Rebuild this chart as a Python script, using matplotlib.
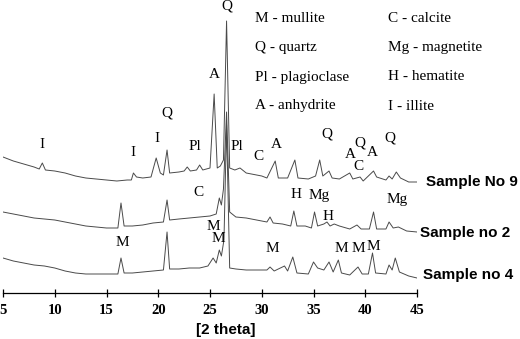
import matplotlib
matplotlib.use('Agg')
import matplotlib.pyplot as plt

# 2 theta positions and intensities (arbitrary units)
theta_no9 = [5.0, 6, 7, 8, 8.5, 8.8, 9.1, 10, 11, 12, 13, 14, 15, 16, 17, 17.4, 17.6, 17.9,
             18.5, 19.3, 19.8, 20.2, 20.5, 20.85, 21.1, 22, 22.5, 22.8, 23.1, 23.7, 24.0, 24.3,
             25.0, 25.4, 25.7, 26.0, 26.3, 26.6, 26.9, 27.4, 27.9, 28.5, 29.5, 30, 30.5, 31.3,
             31.6, 32.5, 33.2, 33.5, 34.5, 35.2, 35.6, 35.9, 36.5, 36.8, 37.5, 38.5, 38.8, 39.5,
             39.8, 40.8, 41.1, 42.0, 42.3, 42.6, 43.0, 43.4, 44.2, 45]
int_no9 = [136, 132, 129, 126, 124, 130, 123, 122, 120, 117, 115, 114, 113, 112, 113, 113, 120, 116,
           115, 116, 135, 120, 118, 143, 120, 121, 122, 126, 122, 123, 128, 123,
           125, 199, 125, 127, 133, 272, 125, 123, 125, 120, 118, 117, 115, 132,
           115, 115, 133, 115, 114, 117, 133, 117, 122, 115, 114, 120, 114, 116,
           112, 122, 116, 113, 117, 114, 121, 115, 111, 111]

theta_no2 = [5, 6, 7, 8, 9, 10, 11, 12, 13, 14, 15, 16.1, 16.4, 16.7, 17.5, 18.5, 19.5, 20.5,
             20.85, 21.1, 22, 23, 24, 25, 25.6, 25.9, 26.1, 26.3, 26.6, 26.9, 27.5, 28.5, 29.5,
             30.5, 30.8, 31.1, 32, 32.8, 33.1, 33.4, 34.2, 34.8, 35.1, 35.4, 36.0, 36.3, 36.6,
             37, 37.5, 38.5, 39.2, 39.6, 40.4, 40.8, 41.1, 42, 42.3, 42.7, 43.2, 44, 45]
int_no2 = [81, 79, 77, 75, 74, 73, 71, 69, 67, 66, 65, 65, 90, 67, 67, 68, 70, 71,
           93, 73, 74, 75, 76, 77, 79, 95, 88, 104, 181, 81, 76, 75, 73,
           71, 76, 70, 69, 67, 82, 67, 67, 65, 81, 67, 69, 71, 67,
           69, 67, 64, 68, 64, 64, 81, 64, 64, 71, 65, 66, 62, 61]

theta_no4 = [5, 6, 7, 8, 9, 10, 11, 12, 13, 14, 15, 16.1, 16.4, 16.7, 17.5, 18.5, 19.5, 20.5,
             20.85, 21.1, 22, 23, 24, 24.8, 25.3, 25.6, 25.9, 26.1, 26.35, 26.6, 26.9, 27.5, 28.5,
             29.5, 30.5, 30.8, 31.2, 32.2, 32.5, 33.0, 33.4, 34.5, 35.0, 35.4, 36.0, 36.5, 36.9,
             37.4, 37.7, 38.5, 39.3, 39.7, 40.3, 40.7, 41.0, 42.0, 42.3, 42.6, 42.9, 43.3, 44.2, 45]
int_no4 = [35, 32, 30, 28, 27, 25, 22, 20, 19, 19, 19, 19, 35, 20, 20, 21, 22, 23,
           61, 24, 24, 25, 25, 27, 35, 30, 43, 37, 53, 168, 25, 24, 23,
           23, 23, 26, 22, 27, 22, 36, 20, 19, 31, 25, 23, 31, 21,
           33, 20, 18, 26, 19, 19, 40, 20, 19, 28, 23, 35, 21, 17, 15]

# phase markers: (label, 2 theta, intensity)
peak_labels = [
    ('I', 8.77, 148), ('I', 17.56, 140), ('I', 19.88, 155), ('Q', 20.85, 180),
    ('Pl', 23.55, 147), ('A', 25.39, 219), ('Q', 26.64, 287), ('Pl', 27.6, 147),
    ('C', 29.64, 137), ('A', 31.38, 148), ('Q', 36.3, 159), ('A', 38.53, 139),
    ('C', 39.3, 126), ('Q', 39.49, 150), ('A', 40.65, 140), ('Q', 42.39, 155),
    ('C', 23.84, 100), ('H', 33.31, 99), ('Mg', 35.53, 97), ('H', 36.4, 77),
    ('Mg', 43.07, 94),
    ('M', 16.5, 51), ('M', 25.29, 66), ('M', 25.77, 54), ('M', 30.99, 45),
    ('M', 37.66, 45), ('M', 39.3, 45), ('M', 40.75, 47),
]

legend_left = ['M - mullite', 'Q - quartz', 'Pl - plagioclase', 'A - anhydrite']
legend_right = ['C - calcite', 'Mg - magnetite', 'H - hematite', 'I - illite']

samples = [('Sample No 9', 426, 182), ('Sample no 2', 420, 233), ('Sample no 4', 423, 275)]

W, H = 520, 339
fig = plt.figure(figsize=(W / 100, H / 100), dpi=100)
ax = fig.add_axes([3 / W, 46 / H, 414 / W, 293 / H])

line_kw = dict(color='#4a4a4a', lw=0.7)
ax.plot(theta_no9, int_no9, **line_kw)
ax.plot(theta_no2, int_no2, **line_kw)
ax.plot(theta_no4, int_no4, **line_kw)

serif = 'Liberation Serif'
for lab, t, i in peak_labels:
    ax.text(t, i, lab, ha='center', va='center', family=serif, fontsize=11)

ax.set_xlim(5, 45)
ax.set_ylim(0, 293)
for s in ['top', 'left', 'right']:
    ax.spines[s].set_visible(False)
ax.spines['bottom'].set_linewidth(0.9)
ax.set_yticks([])
ax.set_xticks(range(5, 50, 5))
ax.tick_params(axis='x', direction='inout', length=6, width=0.9, pad=5, labelsize=10.5)
for lbl in ax.get_xticklabels():
    lbl.set_family(serif)
    lbl.set_weight('bold')
ax.patch.set_visible(False)

# legend block of phase names
for k, (l, r) in enumerate(zip(legend_left, legend_right)):
    y = 1 - (19 + 29 * k) / H
    fig.text(255 / W, y, l, ha='left', va='center', family=serif, fontsize=11)
    fig.text(388 / W, y, r, ha='left', va='center', family=serif, fontsize=11)

for name, px, py in samples:
    fig.text(px / W, 1 - py / H, name, ha='left', va='center',
             family='Liberation Sans', weight='bold', fontsize=11)

fig.text(226 / W, 1 - 330 / H, '[2 theta]', ha='center', va='center',
         family='Liberation Sans', weight='bold', fontsize=11)

fig.savefig('out.png', dpi=100)
